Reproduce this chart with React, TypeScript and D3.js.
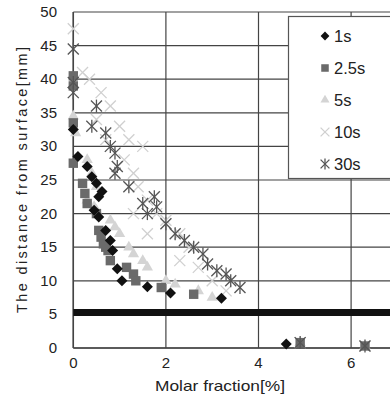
import React from "react";
import * as d3 from "d3";

const seriesNames = ["1s", "2.5s", "5s", "10s", "30s"];
const xTicks = [0, 2, 4, 6];
const yTicks = [0, 5, 10, 15, 20, 25, 30, 35, 40, 45, 50];
const thresholdY = 5.3;

const s1: [number, number][] = [
  [0, 32.5], [0.1, 28.5], [0.3, 27], [0.4, 25.5], [0.5, 24.5], [0.55, 22.5], [0.62, 23.3],
  [0.45, 20.5], [0.55, 19.5], [0.7, 17.5], [0.8, 16], [0.85, 14.5], [0.95, 11.8],
  [1.05, 10], [1.6, 9.1], [2.1, 8.2], [3.2, 7.4], [4.6, 0.6],
];
const s2: [number, number][] = [
  [0, 40.5], [0, 39], [0, 33.5], [0, 27.5], [0.2, 24.5], [0.25, 23], [0.3, 21.5],
  [0.5, 20], [0.55, 17.5], [0.6, 16.5], [0.65, 15.5], [0.75, 14.5], [0.8, 13],
  [0.7, 15], [1.15, 12], [1.3, 11], [1.35, 10], [1.9, 9], [2.6, 8], [4.9, 0.8], [6.3, 0.3],
];
const s3: [number, number][] = [
  [0, 34.5], [0.05, 32], [0.3, 28], [0.4, 26], [0.5, 24], [0.3, 22], [0.45, 21],
  [0.5, 20.5], [0.8, 19], [0.9, 18], [1.0, 17], [1.2, 15], [1.3, 14], [1.5, 13],
  [1.6, 12], [2.0, 10], [2.2, 9.5], [2.7, 8.5], [3.0, 7.5], [4.9, 0.8], [6.3, 0.3],
];
const s4: [number, number][] = [
  [0, 47.5], [0.2, 41], [0.35, 40], [0.6, 38], [0.8, 36], [0.5, 34], [1.0, 33],
  [1.2, 31], [1.5, 30], [0.7, 31], [1.1, 28], [1.3, 26], [1.4, 24], [1.6, 22],
  [1.8, 20], [2.0, 19], [2.3, 17], [2.5, 15], [2.3, 13], [2.7, 12], [3.0, 10],
  [3.3, 8.5], [1.3, 20], [1.6, 17], [4.9, 0.8], [6.3, 0.3],
];
const s5: [number, number][] = [
  [0, 44.5], [0, 39.5], [0, 38], [0.5, 36], [0.4, 33], [0.7, 32], [0.8, 30], [0.9, 29],
  [0.95, 27], [0.9, 26], [1.2, 24], [1.5, 21.5], [1.75, 22.5], [1.6, 20], [2.0, 18.5],
  [2.2, 17], [2.4, 16], [2.6, 15], [2.8, 14], [2.9, 12.5], [3.1, 11.5], [3.3, 11],
  [3.6, 9], [3.4, 10], [1.8, 21], [4.9, 0.8], [6.3, 0.3],
];
const seriesData = [s1, s2, s3, s4, s5];
const seriesColors = ["#111", "#6a6a6a", "#d4d4d4", "#d0d0d0", "#555"];

const W = 390, H = 399;
const left = 73.3, top = 12, bottom = 348;
const x = d3.scaleLinear().domain([0, 7]).range([left, left + 46.3 * 7]);
const y = d3.scaleLinear().domain([0, 50]).range([bottom, top]);

function Marker({ kind, cx, cy, color, s = 1 }: { kind: number; cx: number; cy: number; color: string; s?: number }) {
  if (kind === 0) {
    const h = 5.5 * s;
    return <path d={`M${cx},${cy - h}L${cx + h},${cy}L${cx},${cy + h}L${cx - h},${cy}Z`} fill={color} />;
  }
  if (kind === 1) {
    const h = 4.7 * s;
    return <rect x={cx - h} y={cy - h} width={2 * h} height={2 * h} fill={color} />;
  }
  if (kind === 2) {
    const p = d3.symbol(d3.symbolTriangle, 55 * s * s)();
    return <path d={p || ""} transform={`translate(${cx},${cy})`} fill={color} />;
  }
  const r = 5.5 * s;
  return (
    <g stroke={color} strokeWidth={1.3}>
      <line x1={cx - r} y1={cy - r} x2={cx + r} y2={cy + r} />
      <line x1={cx - r} y1={cy + r} x2={cx + r} y2={cy - r} />
      {kind === 4 && <line x1={cx} y1={cy - r - 1} x2={cx} y2={cy + r + 1} />}
    </g>
  );
}

export default function App() {
  const font = "'Liberation Sans', Arial, sans-serif";
  return (
    <svg width={W} height={H} style={{ position: "absolute", left: 0, top: 0, background: "#fff" }}>
      <rect width={W} height={H} fill="#fff" />
      {yTicks.map((t) => (
        <line key={"gy" + t} x1={left} x2={W} y1={y(t)} y2={y(t)} stroke="#444" strokeWidth={1.2} />
      ))}
      {xTicks.map((t) => (
        <line key={"gx" + t} x1={x(t)} x2={x(t)} y1={top} y2={bottom} stroke="#444" strokeWidth={1.2} />
      ))}
      <line x1={left} x2={left} y1={top} y2={bottom} stroke="#444" strokeWidth={1.5} />
      <line x1={left} x2={W} y1={bottom} y2={bottom} stroke="#444" strokeWidth={1.5} />
      {yTicks.map((t) => (
        <text key={"ty" + t} x={57} y={y(t) + 5} textAnchor="end" fontSize={15} fontFamily={font} fill="#222">{t}</text>
      ))}
      {xTicks.map((t) => (
        <text key={"tx" + t} x={x(t)} y={368} textAnchor="middle" fontSize={15} fontFamily={font} fill="#222">{t}</text>
      ))}
      <text x={220} y={391} textAnchor="middle" fontSize={14.5} fontFamily={font} fill="#222" textLength={130} lengthAdjust="spacingAndGlyphs">Molar fraction[%]</text>
      <text transform={`translate(27,180) rotate(-90)`} textAnchor="middle" fontSize={14.5} fontFamily={font} fill="#222" textLength={266} lengthAdjust="spacing">The distance from surface[mm]</text>
      <line x1={left} x2={W} y1={y(thresholdY)} y2={y(thresholdY)} stroke="#111" strokeWidth={7} />
      {[3, 2, 1, 4, 0].map((si) =>
        seriesData[si].map((d, i) => (
          <Marker key={si + "-" + i} kind={si} cx={x(d[0])} cy={y(d[1])} color={seriesColors[si]} />
        ))
      )}
      <rect x={288.5} y={16.5} width={110} height={162} fill="#fff" stroke="#555" strokeWidth={1.2} />
      {seriesNames.map((n, i) => {
        const cy = 36 + i * 32;
        return (
          <g key={n}>
            <Marker kind={i} cx={325} cy={cy} color={seriesColors[i]} s={0.8} />
            <text x={334} y={cy + 6} fontSize={16.5} fontFamily={font} fill="#222">{n}</text>
          </g>
        );
      })}
    </svg>
  );
}
